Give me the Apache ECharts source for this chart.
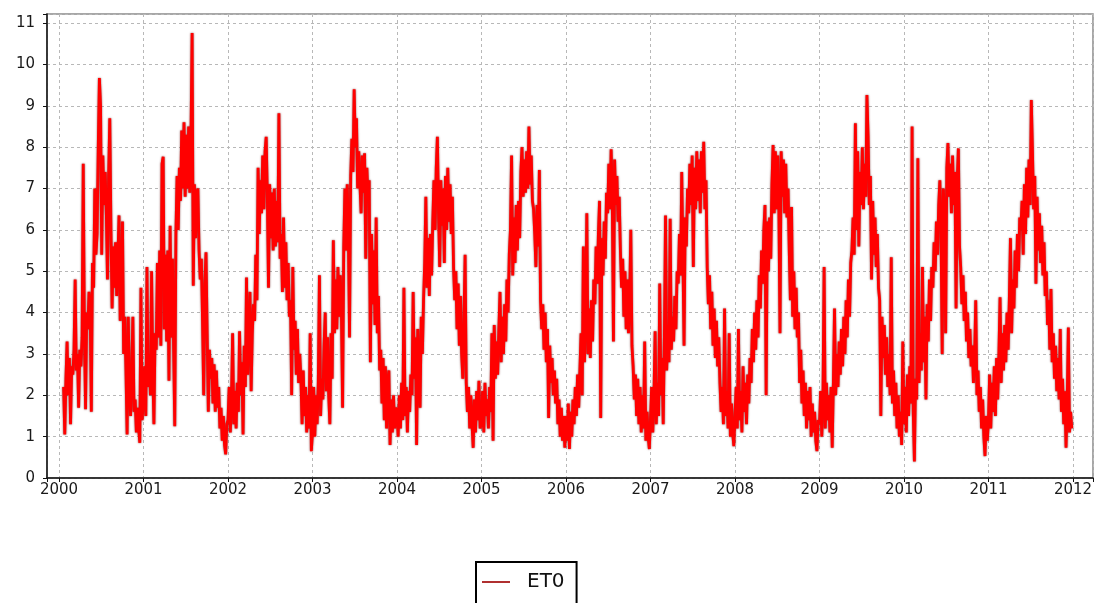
<!DOCTYPE html>
<html>
<head>
<meta charset="utf-8">
<script src="https://cdn.jsdelivr.net/npm/echarts@6/dist/echarts.min.js"></script>
<style>
html,body{margin:0;padding:0;background:#ffffff;}
#chart{width:1099px;height:603px;}
</style>
</head>
<body>
<div id="chart"></div>
<script>
// ---- data (ET0; one sample every 5 days) ----
const seriesName = 'ET0';
const xTickYears = [2000,2001,2002,2003,2004,2005,2006,2007,2008,2009,2010,2011,2012];
const yTickValues = [0,1,2,3,4,5,6,7,8,9,10,11];
const years = [2000,2001,2002,2003,2004,2005,2006,2007,2008,2009,2010,2011];
const firstDay = [20,0,0,0,0,0,0,0,0,0,0,0]; // day of year of the first sample
const stepDays = 5;

const et0_2000 = [
2.2,1.05,2.4,3.3,2.0,2.9,1.3,2.7,2.5,3.1,
4.8,2.6,3.0,1.7,3.1,2.7,3.4,7.6,3.5,1.66,
4.0,3.6,4.5,4.2,1.6,5.2,4.6,7.0,5.4,5.9,
8.0,9.67,9.0,5.4,7.8,6.6,7.4,6.4,4.8,7.3,
8.7,6.0,4.1,5.6,4.6,5.7,4.4,5.3,6.35,3.8,
4.4,6.2,3.0,3.9,2.6,1.05,3.9,2.2,1.5,2.6,
3.9,1.6,1.9,1.1,1.7,1.2,0.85,4.6,1.4];
const et0_2001 = [
1.9,2.7,1.5,5.1,2.2,3.0,2.0,5.0,2.6,1.3,
3.5,3.1,5.2,3.4,5.5,3.2,7.6,7.77,3.6,5.4,
3.3,5.5,2.35,6.1,3.4,5.3,3.2,1.25,5.9,7.3,
6.0,7.5,6.7,8.4,7.0,8.6,6.8,8.3,7.0,8.5,
6.9,8.2,10.76,4.65,7.1,5.8,6.9,7.0,5.5,4.8,
5.3,3.8,2.0,4.7,5.46,3.5,1.6,3.1,2.4,2.9,
1.8,2.75,1.6,2.6,1.7,2.2,1.2,1.7,0.9,1.5,
0.8,0.57,1.3];
const et0_2002 = [
1.4,2.2,1.1,1.9,3.5,1.3,2.1,1.2,2.3,1.6,
3.55,2.0,2.8,1.05,3.2,2.2,4.85,2.5,3.4,4.5,
2.1,3.5,4.2,3.8,5.4,4.3,7.5,5.9,7.2,6.4,
7.8,6.5,7.9,8.25,6.8,4.6,7.1,5.8,6.9,5.5,
7.0,5.6,6.7,5.7,8.82,5.3,5.9,4.5,6.3,4.6,
5.7,4.3,5.2,3.9,4.3,2.0,5.1,3.1,3.8,2.5,
3.6,2.3,3.0,2.4,1.3,2.6,1.5,2.2,1.1,2.0,
1.2,3.5,0.65];
const et0_2003 = [
1.1,2.2,1.0,2.0,1.3,2.3,4.9,1.5,2.4,1.9,
3.2,4.0,2.1,3.4,2.0,1.3,3.5,2.4,5.75,3.5,
4.8,3.6,5.1,3.9,4.9,4.0,1.7,5.6,7.0,5.5,
7.1,5.9,3.4,7.3,8.2,7.4,9.4,8.0,8.7,7.0,
7.9,7.1,6.4,7.8,6.9,7.85,5.3,7.5,6.7,7.2,
2.8,5.9,4.2,5.5,3.7,6.3,3.5,4.4,2.6,3.1,
1.8,2.9,1.4,2.7,1.2,2.3,2.6,0.8,1.9,1.1,
2.0,1.2,1.7];
const et0_2004 = [
1.6,1.0,2.0,1.2,2.3,1.4,4.6,1.5,2.2,1.1,
2.1,1.6,2.5,2.0,4.5,2.4,3.4,0.8,3.6,2.6,
1.7,3.9,3.0,4.3,5.2,6.8,4.6,5.8,4.4,5.9,
4.9,6.2,7.2,6.0,7.5,8.25,6.4,5.1,7.2,6.1,
7.0,5.2,7.3,6.0,7.5,6.2,7.1,5.9,6.8,5.1,
4.3,5.0,3.6,4.7,3.2,4.4,3.0,2.4,3.8,5.4,
2.3,1.6,2.2,1.2,2.0,1.3,0.73,1.9,1.1,2.1,
1.4,2.35,1.2];
const et0_2005 = [
1.3,2.1,1.1,2.3,1.5,1.9,1.2,2.2,1.6,3.5,
0.9,3.7,2.4,3.3,2.5,3.6,4.5,2.8,3.9,3.0,
4.2,3.3,4.8,4.0,5.4,6.0,7.8,4.9,6.3,5.2,
6.6,5.5,6.7,5.8,7.4,8.0,6.8,7.7,6.9,7.9,
7.0,8.5,7.1,7.8,6.7,6.5,5.9,5.1,6.6,5.6,
7.45,4.3,3.6,4.2,3.1,4.0,2.8,3.6,1.45,3.2,
2.3,2.9,2.0,2.6,1.8,2.4,1.3,1.9,1.0,1.7,
0.9,1.5,0.73];
const et0_2006 = [
1.5,0.9,1.8,0.7,1.6,1.0,1.9,1.3,2.2,1.5,
2.5,1.7,2.6,3.5,2.0,5.6,2.8,3.9,6.4,3.0,
4.1,2.9,4.3,3.3,4.8,4.2,5.6,4.7,5.9,6.7,
1.45,5.8,4.9,6.2,5.3,6.9,6.4,7.6,6.5,7.95,
6.8,3.3,7.7,6.6,7.3,6.2,6.8,5.5,4.6,5.3,
3.9,5.0,3.6,4.8,3.5,4.3,6.0,3.2,2.7,1.9,
2.5,1.5,2.4,1.3,2.2,1.1,2.0,1.2,3.3,0.9,
1.6,1.0,0.7];
const et0_2007 = [
1.4,2.2,1.1,2.0,3.55,1.3,2.3,1.5,4.7,2.0,
2.9,1.3,3.4,6.35,2.6,3.7,2.8,6.27,3.1,3.9,
3.3,4.4,3.6,5.0,4.7,5.9,4.9,7.4,5.4,3.2,
6.3,5.6,7.0,6.4,7.6,6.6,7.8,5.1,7.5,6.5,
7.9,6.7,7.7,6.4,7.9,6.9,8.13,6.5,7.2,5.1,
4.2,4.9,3.6,4.5,3.2,4.1,2.9,3.8,2.7,3.4,
2.3,1.6,2.2,1.3,4.1,1.5,2.1,1.2,3.5,1.0,
1.8,1.1,0.77];
const et0_2008 = [
1.5,2.2,1.2,3.6,1.4,2.1,1.1,2.7,1.6,2.3,
1.3,2.5,1.8,2.9,2.3,3.6,2.8,4.0,3.1,4.3,
3.4,4.9,4.1,5.5,4.7,6.0,6.6,2.0,6.2,5.0,
6.3,5.3,7.1,8.05,6.4,7.9,6.5,7.8,6.6,3.5,
7.9,6.8,7.7,6.4,7.6,6.3,7.0,5.5,4.3,6.55,
3.9,5.0,3.6,4.6,3.4,4.0,2.3,3.1,1.8,2.6,
1.5,2.3,1.2,2.1,1.4,2.2,1.0,1.8,1.1,1.6,
0.9,0.65,1.4];
const et0_2009 = [
1.3,2.1,1.0,1.9,5.1,1.2,2.3,1.4,2.0,1.1,
2.2,0.73,2.3,4.1,2.0,3.0,2.2,3.3,2.5,3.6,
2.7,3.9,3.0,4.3,3.4,4.8,3.9,5.2,5.5,6.3,
5.4,8.58,6.0,7.9,5.6,7.4,6.6,8.0,6.5,7.6,
6.8,9.26,8.25,6.6,7.3,4.8,6.7,5.4,6.3,5.1,
5.9,4.6,4.3,1.5,3.9,2.9,3.7,2.5,3.4,2.2,
3.0,2.0,5.34,1.8,2.6,1.5,2.3,1.2,2.0,1.0,
1.6,0.8,3.3];
const et0_2010 = [
1.3,2.2,1.1,2.5,1.5,2.7,1.8,8.5,1.6,0.4,
2.4,1.9,7.73,2.3,3.5,2.6,5.1,2.8,3.9,1.9,
4.2,3.3,4.8,3.8,5.1,4.6,5.7,5.0,6.2,5.4,
6.6,7.2,6.0,3.0,7.0,6.3,3.5,7.5,8.1,6.8,
7.6,6.4,7.8,6.6,7.4,4.1,7.2,7.97,5.6,5.1,
4.2,4.9,3.8,4.5,3.3,4.0,2.9,3.6,2.7,3.2,
2.3,2.9,4.3,2.0,2.6,1.6,2.2,1.2,1.9,1.0,
0.53,1.5,0.9];
const et0_2011 = [
1.4,2.5,1.2,2.3,1.6,2.7,1.5,2.9,1.9,3.0,
4.37,2.3,3.5,2.6,3.7,2.8,4.0,3.1,4.3,5.8,
3.5,4.8,4.1,5.5,4.6,5.9,5.0,6.3,6.0,6.7,
5.4,7.1,5.9,7.5,6.3,7.7,6.6,9.14,7.9,6.5,
7.3,4.7,6.8,5.5,6.4,5.2,6.1,4.9,5.7,4.4,
5.0,3.7,4.3,3.1,4.57,2.8,3.5,2.4,3.2,2.1,
2.9,1.9,3.6,1.6,2.4,1.3,2.1,0.73,1.8,3.64,
1.1,1.6,1.2];

const yearly = [et0_2000,et0_2001,et0_2002,et0_2003,et0_2004,et0_2005,
                et0_2006,et0_2007,et0_2008,et0_2009,et0_2010,et0_2011];

// sample dates -> decimal years
const DAY = 86400000;
const points = [];
years.forEach((y, k) => {
  const t0 = Date.UTC(y, 0, 1), t1 = Date.UTC(y + 1, 0, 1);
  yearly[k].forEach((v, i) => {
    const d = firstDay[k] + i * stepDays;
    points.push([y + (d * DAY) / (t1 - t0), v]);
  });
});

function isTick(list, v) {
  const r = Math.round(v);
  return Math.abs(v - r) < 1e-6 && list.indexOf(r) >= 0;
}

const chart = echarts.init(document.getElementById('chart'), null, {renderer: 'canvas'});
chart.setOption({
  animation: false,
  backgroundColor: '#ffffff',
  grid: {
    left: 47, right: 6, top: 14, bottom: 125,
    show: true, backgroundColor: '#ffffff',
    borderColor: '#8a8a8a', borderWidth: 1.5
  },
  xAxis: {
    type: 'value',
    min: 1999.858, max: 2012.237,
    splitNumber: 12, minInterval: 1, maxInterval: 1,
    axisLine: {onZero: false, lineStyle: {color: '#111111', width: 1.5}},
    axisTick: {show: true, length: 4, lineStyle: {color: '#111111'}},
    axisLabel: {
      margin: 5, color: '#1a1a1a', fontFamily: 'DejaVu Sans', fontSize: 15,
      formatter: v => isTick(xTickYears, v) ? String(Math.round(v)) : ''
    },
    splitLine: {show: true, lineStyle: {color: '#b8b8b8', type: [3, 3], width: 1}}
  },
  yAxis: {
    type: 'value',
    min: 0, max: 11.22, interval: 1,
    axisLine: {show: true, onZero: false, lineStyle: {color: '#111111', width: 1.5}},
    axisTick: {show: true, length: 4, lineStyle: {color: '#111111'}},
    axisLabel: {
      margin: 12, color: '#1a1a1a', fontFamily: 'DejaVu Sans', fontSize: 15,
      formatter: v => isTick(yTickValues, v) ? String(Math.round(v)) : ''
    },
    splitLine: {show: true, lineStyle: {color: '#b8b8b8', type: [3, 3], width: 1}}
  },
  legend: {
    left: 476, top: 562,
    padding: [10, 12, 20, 6],
    borderColor: '#000000', borderWidth: 2,
    itemWidth: 28, itemHeight: 2, itemGap: 0,
    icon: 'rect',
    data: [{name: seriesName, itemStyle: {color: '#b03030'}}],
    textStyle: {fontFamily: 'DejaVu Sans', fontSize: 20, color: '#111111', padding: [0, 0, 0, 12]}
  },
  series: [{
    name: seriesName,
    type: 'line',
    data: points,
    showSymbol: false,
    symbol: 'none',
    sampling: null,
    lineStyle: {color: '#ff0000', width: 2.8, shadowColor: 'rgba(90,0,0,0.75)', shadowBlur: 2},
    itemStyle: {color: '#ff0000'}
  }]
});
</script>
</body>
</html>
